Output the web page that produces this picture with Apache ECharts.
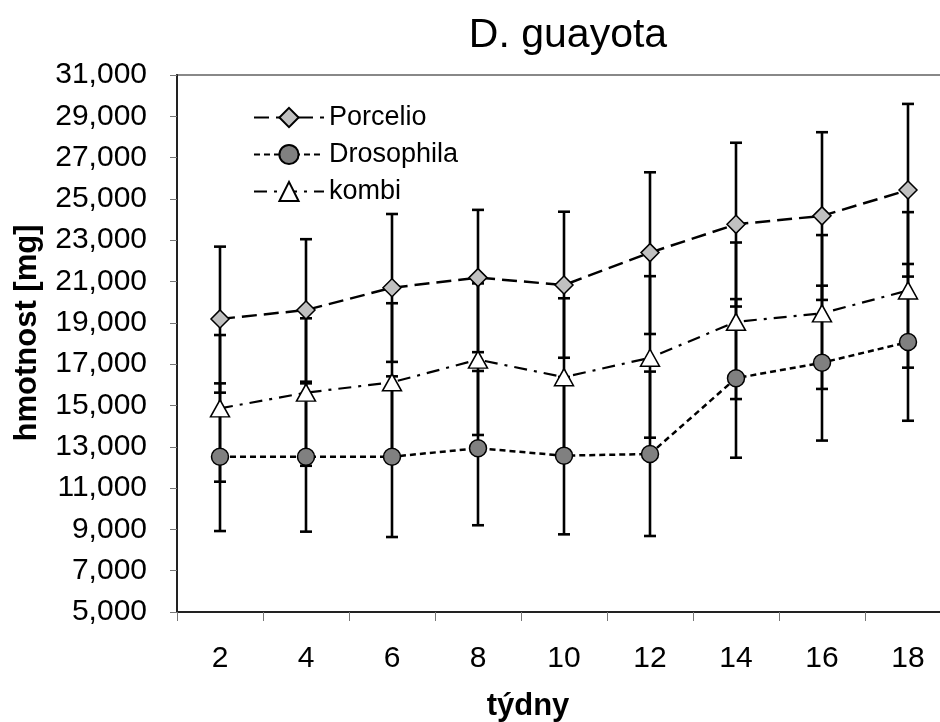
<!DOCTYPE html>
<html>
<head>
<meta charset="utf-8">
<script src="https://cdn.jsdelivr.net/npm/echarts@6/dist/echarts.min.js"></script>
<style>
html,body{margin:0;padding:0;background:#fff;}
#chart{width:940px;height:722px;}
</style>
</head>
<body>
<div id="chart"></div>
<script>
const categories = ['2','4','6','8','10','12','14','16','18'];
const yTicks = {min: 5000, max: 31000, step: 2000};

const porcelioMean = [19190, 19620, 20700, 21190, 20830, 22400, 23770, 24180, 25430];
const porcelioHi   = [22690, 23050, 24270, 24470, 24380, 26290, 27720, 28230, 29600];
const porcelioLo   = [15620, 16070, 17110, 17580, 17310, 18460, 19790, 20110, 21240];

const drosophilaMean = [12520, 12520, 12520, 12930, 12570, 12650, 16320, 17070, 18070];
const drosophilaHi   = [16070, 16150, 16410, 16670, 16380, 16640, 20150, 20800, 21850];
const drosophilaLo   = [8920, 8890, 8630, 9200, 8760, 8680, 12470, 13300, 14260];

const kombiMean = [14860, 15620, 16120, 17220, 16370, 17310, 19050, 19460, 20570];
const kombiHi   = [18410, 19220, 19950, 20910, 20190, 21260, 22890, 23250, 24360];
const kombiLo   = [11310, 12080, 12290, 13570, 12550, 13440, 15310, 15800, 16830];

const FONT = '"Liberation Sans", Arial, sans-serif';

function fmt(v){ return String(v).replace(/\B(?=(\d{3})+(?!\d))/g, ','); }

function errData(lo, hi){ return categories.map((c,i)=>[i, lo[i], hi[i]]); }

function errSeries(lo, hi){
  return {
    type: 'custom',
    z: 2,
    silent: true,
    data: errData(lo, hi),
    renderItem: function(params, api){
      const x = api.value(0);
      const pLo = api.coord([x, api.value(1)]);
      const pHi = api.coord([x, api.value(2)]);
      const cw = 6;
      const st = {stroke: '#000', lineWidth: 2.6};
      return {
        type: 'group',
        children: [
          {type:'line', shape:{x1:pHi[0], y1:pHi[1], x2:pLo[0], y2:pLo[1]}, style: st},
          {type:'line', shape:{x1:pHi[0]-cw, y1:pHi[1], x2:pHi[0]+cw, y2:pHi[1]}, style: st},
          {type:'line', shape:{x1:pLo[0]-cw, y1:pLo[1], x2:pLo[0]+cw, y2:pLo[1]}, style: st}
        ]
      };
    }
  };
}

const chart = echarts.init(document.getElementById('chart'), null, {renderer: 'canvas'});
chart.setOption({
  animation: false,
  backgroundColor: '#fff',
  title: {
    text: 'D. guayota',
    left: 563, textAlign: 'center', top: 10,
    textStyle: {fontFamily: FONT, fontSize: 41, fontWeight: 'normal', color: '#000'}
  },
  legend: {
    orient: 'vertical',
    left: 248, top: 99,
    itemWidth: 70, itemHeight: 24, itemGap: 10,
    textStyle: {fontFamily: FONT, fontSize: 27, color: '#000'},
    data: ['Porcelio', 'Drosophila', 'kombi']
  },
  grid: {left: 177, top: 75, right: -11, bottom: 110, outerBoundsMode: 'none', show: true, borderColor: '#888', borderWidth: 2, containLabel: false},
  xAxis: {
    type: 'category',
    data: categories,
    boundaryGap: true,
    axisLine: {show: true, lineStyle: {color: '#222', width: 2}},
    axisTick: {show: true, alignWithLabel: false, length: 9, lineStyle: {color: '#777', width: 1}},
    axisLabel: {fontFamily: FONT, fontSize: 30, color: '#000', margin: 32},
    splitLine: {show: false}
  },
  yAxis: {
    type: 'value',
    min: yTicks.min, max: yTicks.max, interval: yTicks.step,
    axisLine: {show: true, lineStyle: {color: '#222', width: 2}},
    axisTick: {show: true, length: 7, lineStyle: {color: '#777', width: 1}},
    axisLabel: {fontFamily: FONT, fontSize: 30, color: '#000', margin: 30, formatter: fmt},
    splitLine: {show: false}
  },
  graphic: [
    {type: 'text', x: 528, y: 706, style: {text: 'týdny', font: 'bold 31px ' + FONT, fill: '#000', textAlign: 'center', textVerticalAlign: 'middle'}},
    {type: 'text', x: 27, y: 333, rotation: Math.PI/2, style: {text: 'hmotnost [mg]', font: 'bold 31px ' + FONT, fill: '#000', textAlign: 'center', textVerticalAlign: 'middle'}}
  ],
  series: [
    errSeries(porcelioLo, porcelioHi),
    errSeries(drosophilaLo, drosophilaHi),
    errSeries(kombiLo, kombiHi),
    {
      name: 'Porcelio', type: 'line', z: 3, data: porcelioMean,
      symbol: 'diamond', symbolSize: 18,
      lineStyle: {color: '#000', width: 2.5, type: [15, 7]},
      itemStyle: {color: '#c0c0c0', borderColor: '#000', borderWidth: 1.5}
    },
    {
      name: 'Drosophila', type: 'line', z: 3, data: drosophilaMean,
      symbol: 'circle', symbolSize: 17,
      lineStyle: {color: '#000', width: 2.5, type: [6, 4]},
      itemStyle: {color: '#808080', borderColor: '#000', borderWidth: 1.5}
    },
    {
      name: 'kombi', type: 'line', z: 3, data: kombiMean,
      symbol: 'triangle', symbolSize: [19, 17],
      lineStyle: {color: '#000', width: 2.2, type: [13, 7, 3, 7]},
      itemStyle: {color: '#fff', borderColor: '#000', borderWidth: 1.5}
    }
  ]
});
</script>
</body>
</html>
